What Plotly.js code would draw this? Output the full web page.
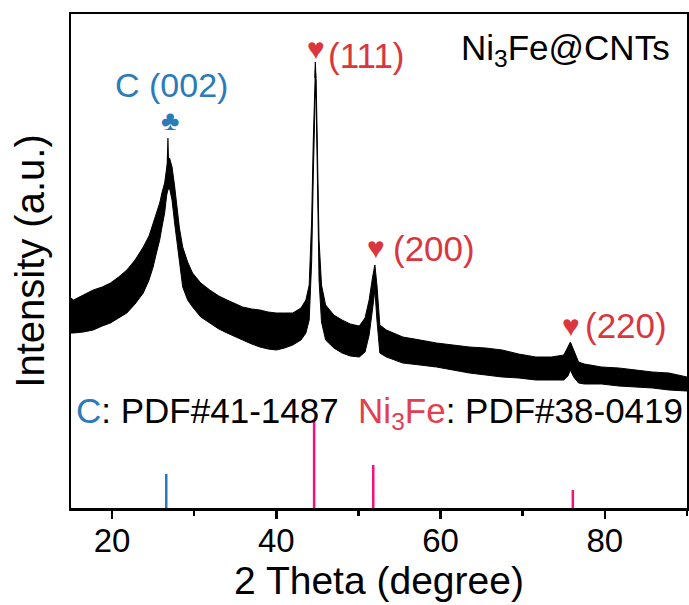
<!DOCTYPE html>
<html>
<head>
<meta charset="utf-8">
<script src="https://cdn.plot.ly/plotly-3.0.1.min.js"></script>
<style>html,body{margin:0;padding:0;background:#fff;}#chart{width:689px;height:605px;}</style>
</head>
<body>
<div id="chart"></div>
<script>
// XRD pattern of Ni3Fe@CNTs: noise band (upper / lower edge of the trace)
const twoTheta = [15.0,15.3,16.5,17.7,18.8,19.8,20.8,21.8,22.8,23.8,24.5,25.0,25.4,25.8,26.1,26.4,26.65,26.8,27.0,27.3,27.6,27.9,28.2,28.6,29.2,29.8,30.8,31.9,33.0,34.0,35.0,35.9,37.0,38.0,39.0,40.0,41.0,42.0,43.0,43.6,44.0,44.3,44.5,44.65,44.75,44.85,45.0,45.2,45.5,46.0,47.0,48.0,49.0,50.1,50.8,51.3,51.7,52.0,52.25,52.6,53.4,55.4,57.5,59.5,61.5,63.5,65.5,67.5,69.5,71.6,73.5,75.0,75.5,75.8,76.2,76.8,77.5,79.6,81.7,83.8,85.8,87.8,90.0];
const upperI = [210,208,213,218,221,225,231,238,248,261,272,285,295,305,316,325,340,348,350,341,323,301,280,261,246,235,225,218,212,208,204,201,199,198,196,195,195,195,200,208,223,288,368,413,438,428,358,268,223,203,193,188,184,182,190,208,230,243,223,183,178,171,168,165,163,161,160,158,154,151,151,153,161,166,158,146,144,141,140,138,136,135,131];
const lowerI = [175,175,176,178,182,185,190,195,204,215,228,241,255,268,282,295,313,318,320,308,286,265,243,221,208,201,191,185,179,175,171,168,164,161,159,158,160,163,168,175,188,246,333,393,418,408,320,228,186,168,160,155,152,151,156,173,198,218,188,155,151,145,143,141,138,135,133,131,130,128,128,128,132,138,131,125,124,124,122,121,120,118,117];
// sharp tips of the two strongest reflections
const tipTheta = [26.7,26.8,26.9,null,44.7,44.75,44.8];
const tipI     = [335,370,335,null,430,446,430];

// Reference patterns (stick heights, a.u.)
const cTheta = [26.6];
const cStick = [34];
const niTheta = [44.6,51.8,76.1];
const niStick = [88,43,18];

// Labels
const xTitle = '2 Theta (degree)';
const yTitle = 'Intensity (a.u.)';
const sampleLabel = 'Ni<sub>3</sub>Fe@CNTs';

const BLUE = '#2b7bba', RED = '#d9363e', PINK = '#f7117f', REDPINK = '#e2404f';
const FONT = 'Arial, "Liberation Sans", sans-serif';

function sticks(xs, hs) {
  const x = [], y = [];
  xs.forEach((v, i) => { x.push(v, v, null); y.push(0, hs[i], null); });
  return {x, y};
}
const cs = sticks(cTheta, cStick);
const ns = sticks(niTheta, niStick);

const traces = [
  {x: twoTheta, y: lowerI, type: 'scatter', mode: 'lines', line: {color: '#000', width: 1}, hoverinfo: 'skip', showlegend: false},
  {x: twoTheta, y: upperI, type: 'scatter', mode: 'lines', fill: 'tonexty', fillcolor: '#000', line: {color: '#000', width: 1}, showlegend: false},
  {x: tipTheta, y: tipI, type: 'scatter', mode: 'lines', line: {color: '#000', width: 1.2}, showlegend: false},
  {x: cs.x, y: cs.y, type: 'scatter', mode: 'lines', line: {color: BLUE, width: 2.5}, showlegend: false},
  {x: ns.x, y: ns.y, type: 'scatter', mode: 'lines', line: {color: PINK, width: 2.5}, showlegend: false}
];

function ann(x, y, text, color, size, xanchor) {
  return {x, y, xref: 'x', yref: 'y', text, showarrow: false,
    font: {family: FONT, size, color}, xanchor: xanchor || 'center', yanchor: 'middle'};
}
const annotations = [
  ann(27.2, 423, 'C (002)', BLUE, 34),
  ann(27.05, 388, '\u2663', BLUE, 28),
  ann(44.78, 460, '\u2665', RED, 30),
  ann(46.1, 453, '(111)', RED, 35, 'left'),
  ann(62.3, 458, sampleLabel, '#000', 35, 'left'),
  ann(52.19, 261, '\u2665', RED, 30),
  ann(54.0, 260, '(200)', RED, 35, 'left'),
  ann(75.87, 183, '\u2665', RED, 30),
  ann(77.3, 183, '(220)', RED, 35, 'left'),
  ann(15.4, 95, '<span style="color:' + BLUE + '">C</span>: PDF#41-1487\u00a0\u00a0<span style="color:' + REDPINK + '">Ni<sub>3</sub>Fe</span>: PDF#38-0419', '#000', 35, 'left')
];

const layout = {
  width: 689, height: 605,
  margin: {l: 71, r: 2, t: 14, b: 97},
  paper_bgcolor: '#fff', plot_bgcolor: '#fff',
  font: {family: FONT, color: '#000'},
  showlegend: false,
  xaxis: {
    range: [15, 90], tick0: 0, dtick: 20, ticks: 'outside', ticklen: 8, tickwidth: 2.5, tickcolor: '#000',
    minor: {dtick: 10, ticks: 'outside', ticklen: 5, tickwidth: 2.5, tickcolor: '#000', showgrid: false},
    showline: true, linewidth: 2.5, linecolor: '#000', mirror: true,
    showgrid: false, zeroline: false, ticklabelstandoff: -6,
    tickfont: {family: FONT, size: 33, color: '#000'},
    title: {text: xTitle, font: {family: FONT, size: 39, color: '#000'}, standoff: 8}
  },
  yaxis: {
    range: [0, 494], showticklabels: false, ticks: '',
    showline: true, linewidth: 2.5, linecolor: '#000', mirror: true,
    showgrid: false, zeroline: false,
    title: {text: yTitle, font: {family: FONT, size: 40, color: '#000'}, standoff: 12}
  },
  annotations
};

Plotly.newPlot('chart', traces, layout, {staticPlot: true, displayModeBar: false});
</script>
</body>
</html>
